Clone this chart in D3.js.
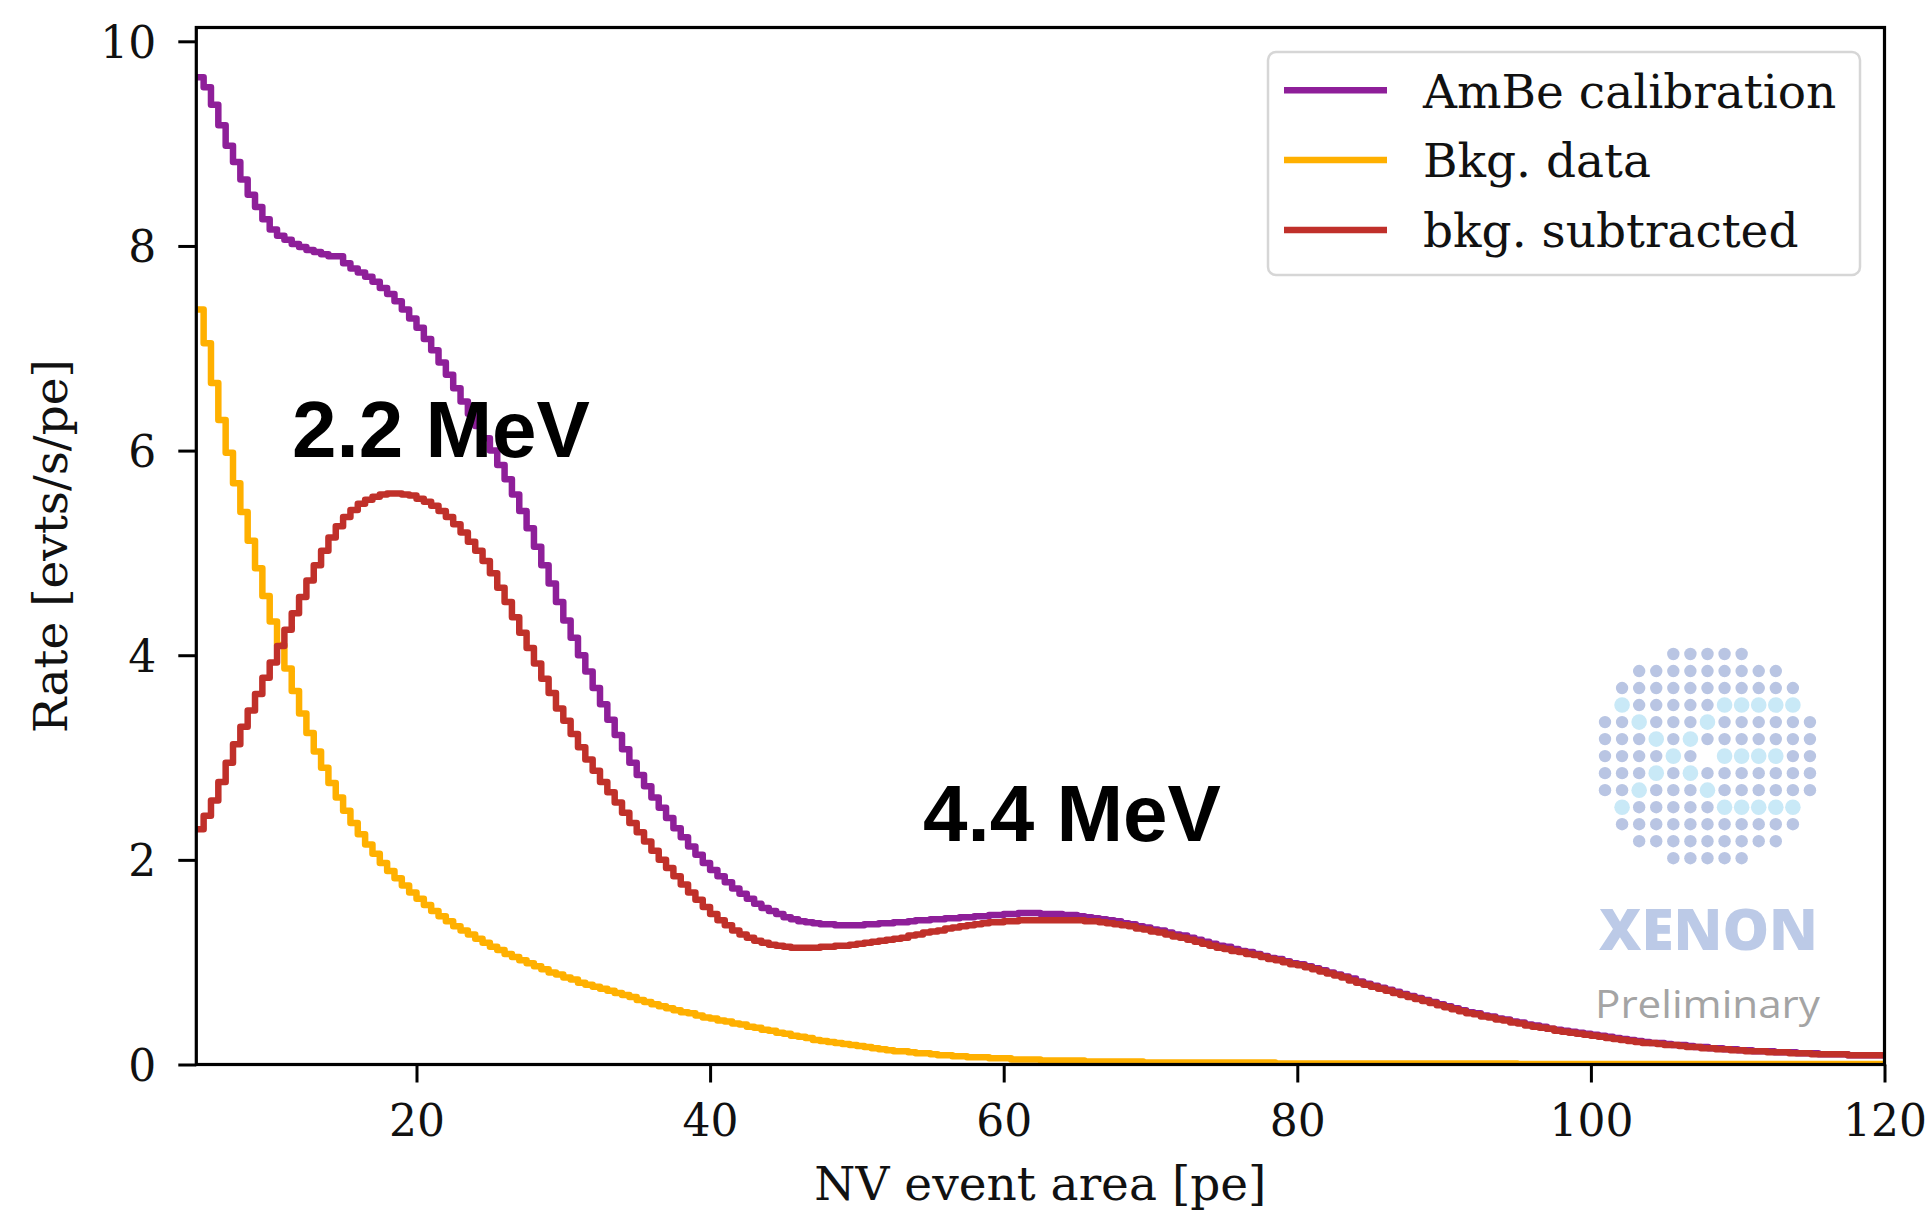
<!DOCTYPE html>
<html><head><meta charset="utf-8">
<script src="https://cdn.jsdelivr.net/npm/d3@7"></script>
<style>body{margin:0;background:#fff;} svg{display:block;}</style>
</head><body>
<svg id="chart" width="1931" height="1214"></svg>
<script>
// ---------- data ----------
const xTicks = [20, 40, 60, 80, 100, 120];
const yTicks = [0, 2, 4, 6, 8, 10];
const binLow = 5, binHigh = 120, binWidth = 0.5;   // histogram binning [pe]
const seriesNames = ["AmBe calibration", "Bkg. data", "bkg. subtracted"];
const annotations = ["2.2 MeV", "4.4 MeV"];

// rates [evts/s/pe] per 0.5 pe bin, from 5 pe to 120 pe (10 bins per row = 5 pe)
const ambe = [
 9.65,9.55,9.38,9.18,8.98,8.82,8.65,8.50,8.38,8.26,
 8.16,8.10,8.06,8.02,7.99,7.96,7.94,7.92,7.90,7.90,
 7.83,7.78,7.74,7.70,7.65,7.59,7.53,7.46,7.38,7.29,
 7.20,7.09,6.98,6.86,6.74,6.61,6.48,6.36,6.24,6.12,
 6.00,5.86,5.72,5.57,5.41,5.24,5.06,4.88,4.70,4.52,
 4.34,4.17,4.00,3.84,3.68,3.52,3.37,3.22,3.08,2.95,
 2.83,2.72,2.61,2.51,2.41,2.31,2.22,2.13,2.05,1.97,
 1.90,1.84,1.78,1.72,1.67,1.62,1.57,1.53,1.50,1.47,
 1.44,1.42,1.40,1.39,1.38,1.37,1.37,1.36,1.36,1.36,
 1.36,1.37,1.37,1.38,1.38,1.39,1.39,1.40,1.41,1.41,
 1.42,1.42,1.43,1.43,1.44,1.44,1.45,1.45,1.46,1.46,
 1.47,1.47,1.48,1.48,1.48,1.47,1.47,1.47,1.46,1.46,
 1.45,1.44,1.43,1.42,1.41,1.40,1.38,1.37,1.35,1.34,
 1.32,1.31,1.29,1.27,1.26,1.24,1.22,1.20,1.18,1.16,
 1.15,1.13,1.11,1.10,1.08,1.06,1.04,1.03,1.01,0.99,
 0.98,0.96,0.94,0.92,0.90,0.88,0.86,0.84,0.81,0.79,
 0.77,0.75,0.73,0.71,0.69,0.67,0.65,0.63,0.61,0.59,
 0.57,0.55,0.53,0.51,0.50,0.48,0.47,0.45,0.44,0.42,
 0.41,0.39,0.38,0.37,0.35,0.34,0.33,0.32,0.31,0.30,
 0.29,0.28,0.27,0.26,0.25,0.24,0.23,0.22,0.21,0.21,
 0.20,0.19,0.19,0.18,0.17,0.17,0.16,0.16,0.15,0.15,
 0.14,0.14,0.13,0.13,0.13,0.12,0.12,0.12,0.11,0.11,
 0.11,0.10,0.10,0.10,0.10,0.09,0.09,0.09,0.09,0.09
];
const bkg = [
 7.38,7.05,6.66,6.30,5.98,5.68,5.40,5.12,4.85,4.58,
 4.33,4.10,3.87,3.65,3.43,3.24,3.06,2.90,2.75,2.61,
 2.48,2.36,2.25,2.15,2.06,1.97,1.89,1.82,1.75,1.68,
 1.62,1.56,1.50,1.45,1.40,1.35,1.31,1.27,1.23,1.19,
 1.15,1.12,1.08,1.05,1.02,0.99,0.96,0.93,0.90,0.88,
 0.85,0.83,0.80,0.78,0.76,0.74,0.72,0.70,0.68,0.66,
 0.63,0.61,0.59,0.57,0.55,0.53,0.51,0.50,0.48,0.46,
 0.45,0.43,0.42,0.40,0.39,0.37,0.36,0.34,0.33,0.31,
 0.30,0.28,0.27,0.26,0.24,0.23,0.22,0.21,0.20,0.19,
 0.18,0.17,0.16,0.15,0.14,0.13,0.13,0.12,0.11,0.11,
 0.10,0.09,0.09,0.08,0.08,0.07,0.07,0.07,0.06,0.06,
 0.06,0.05,0.05,0.05,0.05,0.04,0.04,0.04,0.04,0.04,
 0.04,0.03,0.03,0.03,0.03,0.03,0.03,0.03,0.03,0.02,
 0.02,0.02,0.02,0.02,0.02,0.02,0.02,0.02,0.02,0.02,
 0.02,0.02,0.02,0.02,0.02,0.02,0.02,0.01,0.01,0.01,
 0.01,0.01,0.01,0.01,0.01,0.01,0.01,0.01,0.01,0.01,
 0.01,0.01,0.01,0.01,0.01,0.01,0.01,0.01,0.01,0.01,
 0.01,0.01,0.01,0.01,0.01,0.01,0.01,0.01,0.01,0.01,
 0.005,0.005,0.005,0.005,0.005,0.005,0.005,0.005,0.005,0.005,
 0.005,0.005,0.005,0.005,0.005,0.005,0.005,0.005,0.005,0.005,
 0.005,0.005,0.005,0.005,0.005,0.005,0.005,0.005,0.005,0.005,
 0.005,0.005,0.005,0.005,0.005,0.005,0.005,0.005,0.005,0.005,
 0.005,0.005,0.005,0.005,0.005,0.005,0.005,0.005,0.005,0.005
];
const subtracted = [
 2.30,2.43,2.58,2.76,2.95,3.13,3.30,3.46,3.62,3.78,
 3.93,4.09,4.25,4.41,4.57,4.73,4.88,5.02,5.15,5.26,
 5.35,5.42,5.48,5.52,5.55,5.57,5.58,5.58,5.57,5.56,
 5.53,5.50,5.46,5.41,5.35,5.28,5.20,5.11,5.02,4.92,
 4.80,4.66,4.52,4.37,4.22,4.07,3.92,3.77,3.63,3.48,
 3.36,3.23,3.10,2.98,2.87,2.76,2.66,2.56,2.46,2.36,
 2.27,2.18,2.09,2.00,1.92,1.84,1.76,1.68,1.61,1.54,
 1.47,1.41,1.36,1.31,1.27,1.24,1.21,1.19,1.17,1.16,
 1.15,1.14,1.14,1.14,1.14,1.15,1.15,1.16,1.16,1.17,
 1.18,1.19,1.20,1.21,1.22,1.23,1.24,1.26,1.27,1.29,
 1.30,1.31,1.33,1.34,1.35,1.36,1.37,1.38,1.39,1.39,
 1.40,1.40,1.41,1.41,1.41,1.41,1.41,1.41,1.41,1.41,
 1.41,1.40,1.40,1.39,1.38,1.37,1.36,1.35,1.33,1.32,
 1.30,1.29,1.27,1.25,1.24,1.22,1.20,1.18,1.16,1.14,
 1.13,1.11,1.10,1.08,1.07,1.05,1.03,1.02,1.00,0.98,
 0.97,0.95,0.93,0.91,0.89,0.87,0.85,0.82,0.80,0.78,
 0.76,0.74,0.72,0.70,0.68,0.66,0.64,0.62,0.60,0.58,
 0.56,0.54,0.52,0.50,0.49,0.47,0.46,0.44,0.43,0.41,
 0.40,0.38,0.37,0.36,0.35,0.33,0.32,0.31,0.30,0.29,
 0.28,0.27,0.26,0.25,0.24,0.23,0.22,0.21,0.21,0.20,
 0.19,0.19,0.18,0.17,0.17,0.16,0.16,0.15,0.15,0.14,
 0.14,0.13,0.13,0.13,0.12,0.12,0.12,0.11,0.11,0.11,
 0.10,0.10,0.10,0.10,0.10,0.09,0.09,0.09,0.09,0.09
];

// XENON logo: light dots (row, col) in a 13x13 dot disc
const logoLight = [[3,1],[3,7],[3,8],[3,9],[3,10],[3,11],[4,2],[4,6],[5,3],[5,5],[6,4],
  [6,7],[6,8],[6,9],[6,10],[7,3],[7,5],[8,2],[8,6],[9,1],[9,7],[9,8],[9,9],[9,10],[9,11]];
const logoGap = [[6,6]];

// ---------- drawing ----------
const colors = ["#8e1f99", "#ffb000", "#c0302a"];
const svg = d3.select("#chart");
svg.append("rect").attr("width", 1931).attr("height", 1214).attr("fill", "#ffffff");

const L = 196.3, R = 1884.5, T = 27.5, B = 1064.5;
const x = d3.scaleLinear().domain([binLow, binHigh]).range([L, R]);
const y = d3.scaleLinear().domain([0, 10.135]).range([B, T]);

svg.append("defs").append("clipPath").attr("id", "plotclip")
  .append("rect").attr("x", L).attr("y", T).attr("width", R - L).attr("height", B - T);

const series = [ambe, bkg, subtracted];
const line = d3.line().x(d => x(d[0])).y(d => y(d[1])).curve(d3.curveStepAfter);
const gLines = svg.append("g").attr("clip-path", "url(#plotclip)");
series.forEach((vals, k) => {
  const pts = vals.map((v, i) => [binLow + i * binWidth, v]);
  pts.push([binHigh, vals[vals.length - 1]]);
  gLines.append("path").datum(pts).attr("d", line)
    .attr("fill", "none").attr("stroke", colors[k]).attr("stroke-width", 6.5)
    .attr("stroke-linejoin", "round");
});

// annotations
const annoPos = [[11.52, 5.94], [54.5, 2.18]];
annotations.forEach((t, i) => {
  svg.append("text").attr("x", x(annoPos[i][0])).attr("y", y(annoPos[i][1]))
    .attr("font-family", "'Liberation Sans', Arial, sans-serif").attr("font-weight", "bold")
    .attr("font-size", 80).attr("fill", "#000").text(t);
});

// XENON logo
const gLogo = svg.append("g");
const cx0 = 1605, cy0 = 654, step = 17.08;
const isLight = (r, c) => logoLight.some(p => p[0] === r && p[1] === c);
const isGap = (r, c) => logoGap.some(p => p[0] === r && p[1] === c);
for (let r = 0; r < 13; r++) for (let c = 0; c < 13; c++) {
  if ((r - 6) ** 2 + (c - 6) ** 2 > 6.5 * 6.5 || isGap(r, c)) continue;
  const lt = isLight(r, c);
  gLogo.append("circle").attr("cx", cx0 + c * step).attr("cy", cy0 + r * 17.02)
    .attr("r", lt ? 7.8 : 6.2).attr("fill", lt ? "#c9e9f7" : "#b9c5e3");
}
gLogo.append("text").attr("x", 1599).attr("y", 950).attr("font-family", "'Open Sans', sans-serif")
  .attr("font-weight", 800).attr("font-size", 57).attr("fill", "#bccae7")
  .attr("textLength", 219).attr("lengthAdjust", "spacingAndGlyphs").text("XENON");
gLogo.append("text").attr("x", 1595).attr("y", 1018).attr("font-family", "'Open Sans', sans-serif")
  .attr("font-size", 39).attr("fill", "#a4a4a4")
  .attr("textLength", 225).attr("lengthAdjust", "spacingAndGlyphs").text("Preliminary");

// axes
const serif = "'DejaVu Serif', serif";
const gx = svg.append("g").attr("transform", `translate(0,${B})`)
  .call(d3.axisBottom(x).tickValues(xTicks).tickSize(18).tickPadding(22).tickSizeOuter(0));
const gy = svg.append("g").attr("transform", `translate(${L},0)`)
  .call(d3.axisLeft(y).tickValues(yTicks).tickSize(18).tickPadding(22).tickSizeOuter(0));
[gx, gy].forEach(g => {
  g.select(".domain").remove();
  g.selectAll(".tick line").attr("stroke", "#000").attr("stroke-width", 3);
  g.selectAll(".tick text").attr("font-family", serif).attr("font-size", 44).attr("fill", "#111");
});
gy.selectAll(".tick text").attr("dy", "0.36em");

// frame
svg.append("rect").attr("x", L).attr("y", T).attr("width", R - L).attr("height", B - T)
  .attr("fill", "none").attr("stroke", "#000").attr("stroke-width", 3.2);

// axis labels
svg.append("text").attr("x", (L + R) / 2).attr("y", 1200).attr("text-anchor", "middle")
  .attr("font-family", serif).attr("font-size", 47).attr("fill", "#111").text("NV event area [pe]");
svg.append("text").attr("transform", `translate(67,${(T + B) / 2}) rotate(-90)`).attr("text-anchor", "middle")
  .attr("font-family", serif).attr("font-size", 47).attr("fill", "#111").text("Rate [evts/s/pe]");

// legend
const gLeg = svg.append("g");
gLeg.append("rect").attr("x", 1268).attr("y", 52).attr("width", 592).attr("height", 223)
  .attr("rx", 8).attr("fill", "#fff").attr("fill-opacity", 0.8)
  .attr("stroke", "#d6d6d6").attr("stroke-width", 2.5);
const legY = [90.3, 160, 230], legBase = [108.3, 176.8, 246.8];
seriesNames.forEach((n, i) => {
  gLeg.append("line").attr("x1", 1284).attr("x2", 1387).attr("y1", legY[i]).attr("y2", legY[i])
    .attr("stroke", colors[i]).attr("stroke-width", 6.5);
  gLeg.append("text").attr("x", 1423).attr("y", legBase[i]).attr("font-family", serif)
    .attr("font-size", 47).attr("fill", "#111").text(n);
});
</script>
</body></html>
